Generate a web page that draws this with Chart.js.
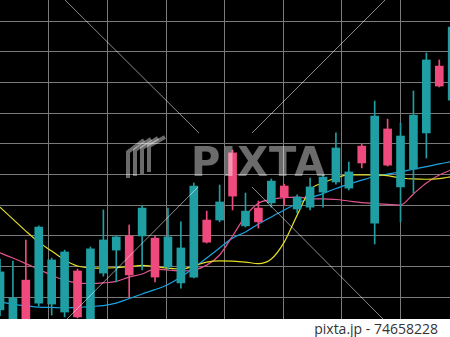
<!DOCTYPE html>
<html>
<head>
<meta charset="utf-8">
<script src="https://cdn.jsdelivr.net/npm/chart.js@4.4.1/dist/chart.umd.min.js"></script>
<style>
  html, body { margin: 0; padding: 0; background: #fff; }
  #wrap { position: relative; width: 450px; height: 337px; overflow: hidden; }
  #chart { display: block; background: #000; }
  #credit {
    position: absolute; left: 0; top: 319px; width: 438px; height: 18px;
    line-height: 18px; text-align: right;
    font: 14px "Open Sans", sans-serif; color: #333;
  }
</style>
</head>
<body>
<div id="wrap">
  <canvas id="chart" width="450" height="319"></canvas>
  <div id="credit">pixta.jp - 74658228</div>
</div>
<script>
// candle values, one per session (left to right)
var opens  = [5.8, 0.5, 15.5, 8.0, 7.7, 5.1, 18.5, 0.5, 17.8, 25.3, 29.9, 29.9, 29.2, 19.8, 14.6, 16.5, 35.1, 35.1,
              57.0, 33.2, 39.0, 40.7, 46.2, 38.7, 39.3, 44.2, 47.5, 45.5, 59.2, 34.1, 64.8, 45.9, 51.7, 63.5, 85.3, 74.2];
var highs  = [22.4, 21.7, 28.6, 33.2, 22.7, 25.3, 19.1, 26.3, 38.4, 29.9, 33.5, 39.7, 29.9, 39.0, 34.5, 47.2, 38.0, 46.5,
              57.9, 43.9, 41.3, 48.5, 46.8, 43.3, 48.8, 49.8, 63.5, 54.0, 59.9, 73.9, 68.0, 66.7, 77.2, 89.6, 87.3, 100.3];
var lows   = [3.8, -0.8, -0.8, 7.1, 4.1, 3.5, 3.2, -0.8, 16.8, 14.9, 10.0, 18.8, 14.9, 18.8, 12.9, 16.2, 27.6, 34.5,
              38.4, 32.8, 32.5, 39.3, 40.0, 37.4, 38.4, 39.3, 46.8, 44.9, 52.1, 27.3, 52.7, 34.5, 43.9, 55.3, 78.5, 73.6];
var closes = [18.2, 9.7, 0.9, 32.8, 22.1, 24.7, 3.5, 25.7, 28.6, 29.6, 17.2, 39.0, 16.5, 29.6, 26.0, 46.2, 27.9, 41.0,
              42.9, 38.0, 34.5, 47.8, 42.6, 42.6, 45.9, 49.1, 58.6, 50.8, 53.7, 69.0, 53.0, 62.5, 69.3, 87.3, 78.8, 98.0];

// moving averages
var maYellow = [39.3, 35.4, 31.5, 27.9, 25.0, 22.1, 20.1, 19.5, 19.4, 19.6, 19.9, 20.3, 19.9, 19.4, 19.1, 20.1, 21.4, 21.8,
                21.7, 21.4, 20.9, 22.4, 27.9, 36.7, 44.9, 47.2, 48.8, 49.8, 49.8, 49.8, 49.6, 48.8, 48.5, 48.4, 48.6, 49.3];
var maPink   = [24.4, 22.7, 20.9, 19.0, 17.1, 15.5, 14.6, 14.4, 14.6, 15.1, 16.5, 17.5, 19.1, 18.8, 18.5, 18.8, 20.4, 23.7,
                29.9, 36.4, 40.6, 41.8, 42.4, 42.6, 42.1, 42.0, 41.8, 41.3, 40.8, 40.5, 40.2, 40.0, 43.6, 47.2, 49.8, 51.6];
var maBlue   = [8.5, 7.6, 7.1, 6.7, 6.6, 6.5, 6.6, 6.9, 7.2, 8.0, 9.5, 11.0, 12.4, 14.1, 16.5, 19.5, 22.7, 26.0,
                29.2, 31.2, 33.8, 36.1, 38.4, 40.5, 42.3, 43.7, 45.4, 46.8, 48.1, 49.3, 50.1, 50.8, 51.7, 52.5, 53.4, 54.2];

// grid positions
var priceTicks = [10, 20, 30, 40, 50, 60, 70, 80, 90, 100];
var timeTicks  = [3.79, 8.32, 12.85, 17.38, 21.91, 26.44, 30.97];

var UP = '#1f9ea3', DOWN = '#ef4a7d';

function candleColor(ctx) {
  var i = ctx.dataIndex;
  return closes[i] >= opens[i] ? UP : DOWN;
}
function series(arr) {
  return arr.map(function (v, i) { return { x: i, y: v }; });
}

var bodies = opens.map(function (o, i) { return { x: i, y: [o, closes[i]] }; });
var wicks = lows.map(function (l, i) { return { x: i, y: [l, highs[i]] }; });

var watermark = {
  id: 'watermark',
  afterDraw: function (chart) {
    var c = chart.ctx;
    c.save();
    c.strokeStyle = 'rgba(255,255,255,0.55)';
    c.lineWidth = 1;
    [[65, 0, 199, 133], [385, 0, 252, 133], [67, 319, 198, 187], [383, 319, 252, 187]].forEach(function (l) {
      c.beginPath();
      c.moveTo(l[0], l[1]);
      c.lineTo(l[2], l[3]);
      c.stroke();
    });
    // logo stripes
    c.strokeStyle = 'rgba(255,255,255,0.42)';
    c.lineWidth = 4;
    for (var k = 0; k < 4; k++) {
      var x = 128 + 7 * k;
      c.beginPath();
      c.moveTo(x, 178 - 2 * k);
      c.lineTo(x, 152 - 2 * k);
      c.lineTo(x + 16, 140 - 1 * k);
      c.stroke();
    }
    c.font = 'bold 40px "DejaVu Sans"';
    c.fillStyle = 'rgba(255,255,255,0.42)';
    if ('letterSpacing' in c) c.letterSpacing = '1px';
    c.fillText('PIXTA', 191, 176);
    c.restore();
  }
};

var ctx = document.getElementById('chart').getContext('2d');
var chart = new Chart(ctx, {
  type: 'bar',
  data: {
    datasets: [
      {
        type: 'line', data: series(maYellow), borderColor: '#e3dc28',
        borderWidth: 1.2, pointRadius: 0, cubicInterpolationMode: 'monotone', order: 3
      },
      {
        type: 'line', data: series(maPink), borderColor: '#e2548f',
        borderWidth: 1.2, pointRadius: 0, cubicInterpolationMode: 'monotone', order: 3
      },
      {
        type: 'line', data: series(maBlue), borderColor: '#1ba3e3',
        borderWidth: 1.2, pointRadius: 0, cubicInterpolationMode: 'monotone', order: 3
      },
      {
        data: wicks, backgroundColor: candleColor, barThickness: 1,
        grouped: false, order: 2
      },
      {
        data: bodies, backgroundColor: candleColor, barThickness: 8,
        grouped: false, order: 1
      }
    ]
  },
  options: {
    responsive: false,
    animation: false,
    devicePixelRatio: 1,
    events: [],
    layout: { padding: 0 },
    plugins: { legend: { display: false }, tooltip: { enabled: false } },
    scales: {
      x: {
        type: 'linear', min: 0, max: 34.83, offset: false,
        afterBuildTicks: function (scale) {
          scale.ticks = timeTicks.map(function (v) { return { value: v }; });
        },
        grid: { color: '#7a7a7a', lineWidth: 1, drawTicks: false, offset: false },
        border: { display: false },
        ticks: { display: false }
      },
      y: {
        min: 2.83, max: 106.85,
        afterBuildTicks: function (scale) {
          scale.ticks = priceTicks.map(function (v) { return { value: v }; });
        },
        grid: { color: '#7a7a7a', lineWidth: 1, drawTicks: false },
        border: { display: false },
        ticks: { display: false }
      }
    }
  },
  plugins: [watermark]
});
</script>
</body>
</html>
